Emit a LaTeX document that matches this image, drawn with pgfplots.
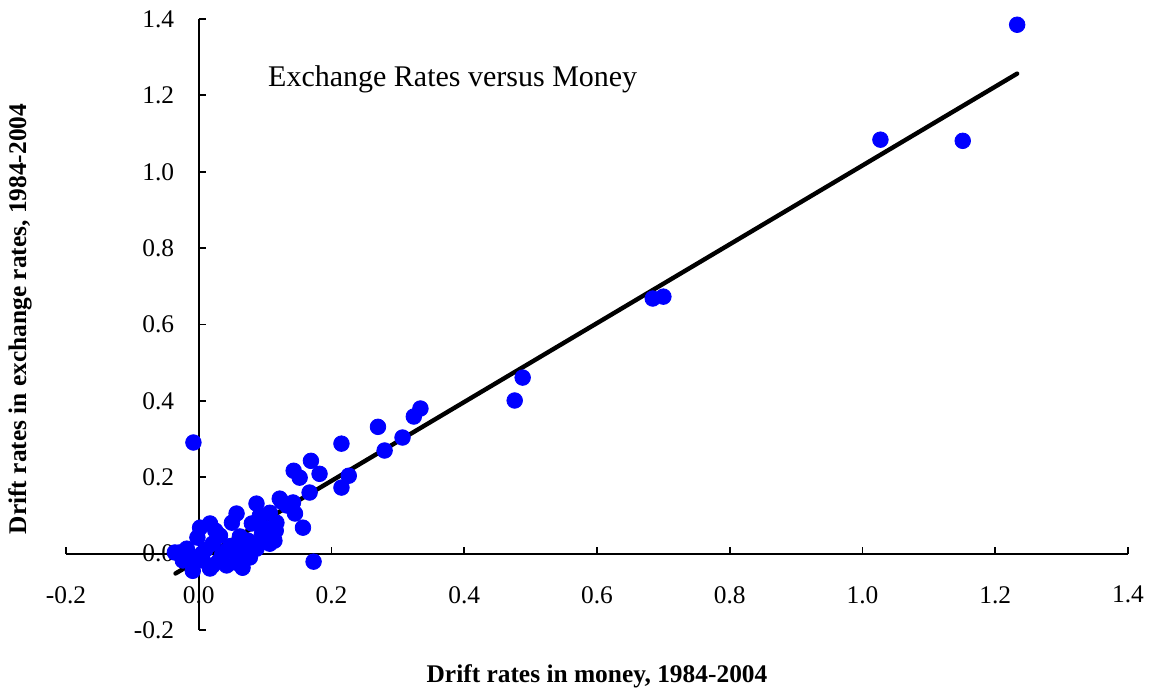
\documentclass[border=0pt]{standalone}
\usepackage{pgfplots}
\pgfplotsset{compat=1.18}
\usepackage{fontspec}
\setmainfont{Liberation Serif}
\definecolor{ptblue}{RGB}{0,0,255}
\begin{document}
\begin{tikzpicture}[font=\fontsize{12.7}{14}\selectfont]
\path[use as bounding box] (0,0) rectangle (578.5pt,346pt);
\begin{axis}[
  at={(33pt,31pt)}, anchor=south west,
  scale only axis, width=531pt, height=305.5pt,
  xmin=-0.2, xmax=1.4, ymin=-0.2, ymax=1.4,
  axis lines=middle,
  axis line style={line width=0.9pt, -},
  xtick={-0.2,0,0.2,...,1.4},
  ytick={-0.2,0,0.2,...,1.4},
  xticklabels={-0.2,0.0,0.2,0.4,0.6,0.8,1.0,1.2,1.4},
  yticklabels={-0.2,0.0,0.2,0.4,0.6,0.8,1.0,1.2,1.4},
  hide obscured x ticks=false, hide obscured y ticks=false,
  major tick length=3.5pt,
  xtick style={line width=0.9pt, black, yshift=1.75pt},
  ytick style={line width=0.9pt, black, xshift=1.75pt},
  xticklabel style={anchor=north, yshift=-11pt},
  yticklabel style={anchor=east, xshift=-7pt},
  /pgf/number format/assume math mode=true,
  xlabel={\textbf{Drift rates in money, 1984-2004}},
  ylabel={\textbf{Drift rates in exchange rates, 1984-2004}},
  x label style={at={(axis description cs:0.5,-0.075)}, anchor=center},
  y label style={at={(axis description cs:-0.0433,0.509)}, anchor=center, rotate=90},
  clip=false,
]
\addplot[only marks, mark=*, mark size=3.9pt, mark options={fill=ptblue, draw=ptblue}] coordinates {
(1.233,1.385) (1.027,1.084) (1.151,1.081) (0.684,0.668) (0.700,0.673)
(0.476,0.401) (0.488,0.461) (0.334,0.380) (0.324,0.359) (0.270,0.332)
(0.307,0.304) (0.280,0.270) (0.215,0.288) (0.226,0.204) (0.215,0.173)
(-0.008,0.291) (0.169,0.243) (0.182,0.209) (0.143,0.217) (0.152,0.199)
(0.167,0.160) (0.157,0.068) (0.173,-0.021) (0.142,0.134) (0.125,0.136)
(0.145,0.105) (0.107,0.107) (0.117,0.081) (0.116,0.060) (0.110,0.034)
(0.087,0.131) (0.122,0.144) (0.133,0.126) (0.057,0.105) (0.050,0.081)
(0.092,0.099) (0.080,0.079) (0.099,0.068) (0.111,0.060) (0.114,0.034)
(0.002,0.068) (0.017,0.079) (-0.002,0.042) (0.032,0.047) (0.021,0.026)
(-0.018,0.013) (-0.029,0.003) (-0.009,-0.010) (0.006,-0.018) (0.021,-0.031)
(0.042,-0.031) (0.057,-0.024) (0.066,-0.037) (0.077,-0.010) (0.057,0.000)
(0.042,0.008) (0.066,0.016) (0.087,0.013) (0.074,0.034) (-0.009,-0.045)
(0.017,-0.039) (-0.024,-0.018) (0.092,0.029) (0.107,0.026) (-0.036,0.003)
(0.062,-0.012) (0.035,-0.005) (0.010,0.010) (0.025,0.060) (0.062,0.045)
(0.048,0.020) (0.030,-0.020) (0.095,0.050) (0.005,0.000)
};
\addplot[black, line width=2.2pt, line cap=round] coordinates {(-0.035,-0.052) (1.233,1.257)};
\node[anchor=west, inner sep=0pt, font=\fontsize{15}{17}\selectfont] at (axis cs:0.104,1.243) {Exchange Rates versus Money};
\end{axis}
\end{tikzpicture}
\end{document}
